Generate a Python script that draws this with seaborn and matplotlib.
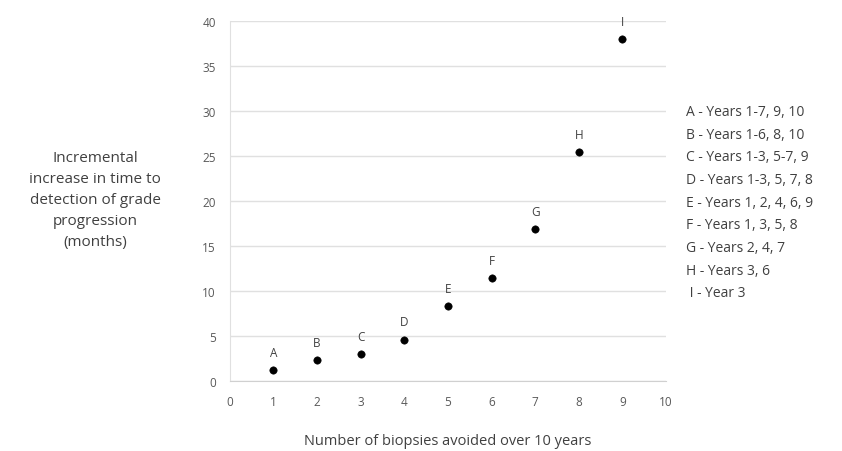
# plot.py
import matplotlib
matplotlib.use('Agg')
import matplotlib.pyplot as plt
import seaborn as sns
import pandas as pd

# DATA
labels = ['A', 'B', 'C', 'D', 'E', 'F', 'G', 'H', 'I']
biopsies_avoided = [1, 2, 3, 4, 5, 6, 7, 8, 9]
months_increase = [1.2, 2.3, 3.0, 4.6, 8.3, 11.4, 16.9, 25.4, 38.0]
schedules = ['A - Years 1-7, 9, 10', 'B - Years 1-6, 8, 10', 'C - Years 1-3, 5-7, 9',
             'D - Years 1-3, 5, 7, 8', 'E - Years 1, 2, 4, 6, 9', 'F - Years 1, 3, 5, 8',
             'G - Years 2, 4, 7', 'H - Years 3, 6', ' I - Year 3']
x_ticks = list(range(0, 11))
y_ticks = list(range(0, 45, 5))

data = pd.DataFrame({'x': biopsies_avoided, 'y': months_increase, 'lab': labels})

sns.set_style('white')
plt.rcParams['font.family'] = ['Open Sans', 'DejaVu Sans']

fig = plt.figure(figsize=(8.42, 4.52), dpi=100)
ax = fig.add_axes([0.273, 0.155, 0.518, 0.796])

sns.scatterplot(data=data, x='x', y='y', color='black', s=28, edgecolor='black', ax=ax, zorder=3)

for _, row in data.iterrows():
    ax.annotate(row['lab'], (row['x'], row['y']), xytext=(0, 8), textcoords='offset points',
                ha='center', va='bottom', fontsize=8.5, color='#404040')

ax.set_xlim(0, 10)
ax.set_ylim(0, 40)
ax.set_xticks(x_ticks)
ax.set_yticks(y_ticks)
ax.grid(axis='y', color='#e0e0e0', linewidth=1)
ax.grid(axis='x', visible=False)
ax.set_axisbelow(True)

for side in ['top', 'right']:
    ax.spines[side].set_visible(False)
ax.spines['left'].set_color('#e0e0e0')
ax.spines['bottom'].set_color('#d0d0d0')
ax.tick_params(axis='x', length=4, color='#d0d0d0', labelsize=8.5, labelcolor='#595959', pad=6)
ax.tick_params(axis='y', length=0, labelsize=8.5, labelcolor='#595959', pad=10)

ax.set_xlabel('Number of biopsies avoided over 10 years', fontsize=10.5, color='#404040', labelpad=18)
ax.set_ylabel('')
fig.text(0.113, 0.557, 'Incremental\nincrease in time to\ndetection of grade\nprogression\n(months)',
         ha='center', va='center', fontsize=11, color='#404040', linespacing=1.55)

fig.text(0.815, 0.768, '\n'.join(schedules), ha='left', va='top', fontsize=10,
         color='#404040', linespacing=1.7)

plt.savefig('out.png', dpi=100)
